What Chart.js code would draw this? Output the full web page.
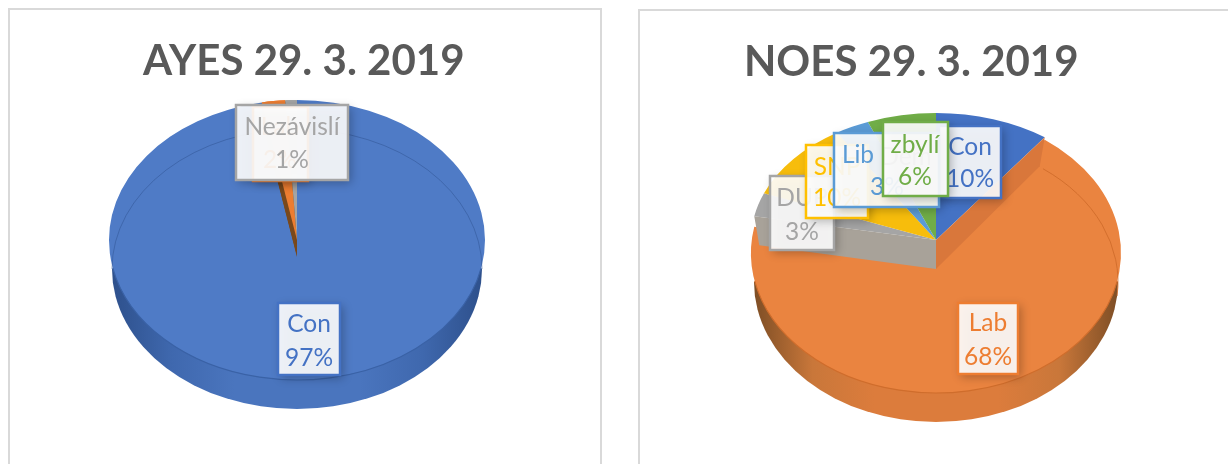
<!DOCTYPE html>
<html>
<head>
<meta charset="utf-8">
<script src="https://cdn.jsdelivr.net/npm/chart.js@4"></script>
<style>
html, body { margin: 0; width: 1228px; height: 464px; overflow: hidden; background: #fff; }
.panel { position: absolute; box-sizing: border-box; border: 2.5px solid #d9d9d9; height: 520px; }
canvas { position: absolute; }
</style>
</head>
<body>
<div class="panel" style="left:8px;top:7.5px;width:594px"></div>
<div class="panel" style="left:638px;top:9px;width:640px"></div>
<canvas id="ayes" style="left:11px;top:11px"></canvas>
<canvas id="noes" style="left:641px;top:12px"></canvas>
<script>
const ayesCategories = ['Con', 'Lab', 'Nezávislí'];
const ayesValues = [97, 2, 1];
const ayesColors = ['#4f7bc6', '#ed7d31', '#a5a5a5'];

const noesCategories = ['Con', 'Lab', 'DUP', 'SNP', 'Lib', 'zbylí'];
const noesValues = [10, 68, 3, 10, 3, 6];
const noesColors = ['#4472c4', '#ea8440', '#a5a5a5', '#f7bd0c', '#5b9bd5', '#70ad47'];

const textColors = {
    Con: '#4472c4', Lab: '#ed7d31', 'Nezávislí': '#a5a5a5', DUP: '#a5a5a5',
    SNP: '#ffc000', Lib: '#5b9bd5', 'zbylí': '#70ad47'
};

// label boxes, in page pixels, listed bottom to top
const ayesBoxes = [
    { i: 0, x: 278, y: 303, w: 62, h: 72, cx: [309, 309], ty: [324, 358] },
    { i: 1, x: 253, y: 107, w: 55, h: 74, cx: [280, 280], ty: [127, 160] },
    { i: 2, x: 236, y: 105, w: 112, h: 75, cx: [292, 292], ty: [127, 160] }
];
const noesBoxes = [
    { i: 1, x: 958, y: 303, w: 60, h: 71, cx: [988, 988], ty: [323, 357] },
    { i: 0, x: 939, y: 126, w: 62, h: 72, cx: [970, 970], ty: [147, 179] },
    { i: 2, x: 770, y: 176, w: 64, h: 74, cx: [802, 802], ty: [198, 232] },
    { i: 3, x: 806, y: 145, w: 62, h: 73, cx: [837, 837], ty: [167, 198] },
    { i: 4, x: 834, y: 133, w: 105, h: 74, cx: [858, 887], ty: [155, 187], note: 'Dem', noteX: 906, noteY: 157 },
    { i: 5, x: 883, y: 122, w: 65, h: 74, cx: [915, 915], ty: [145, 177] }
];

Chart.defaults.font.family = 'Lato';
Chart.defaults.animation = false;

function percent(values, i) {
    return values[i] + '%';
}

// squash an arc into the tilted ellipse; slices behind the front one sit higher on the right pie
function flatten(c, pie, el, i) {
    const back = pie.frontIndex !== undefined && i !== pie.frontIndex;
    const cy = back ? pie.backCy : pie.cy;
    const ry = back ? pie.backRy : pie.ry;
    c.translate(-pie.left, -pie.top);
    c.translate(pie.cx, cy);
    c.scale(1, ry / pie.rx);
    c.translate(-el.x, -el.y);
}

function drawWall(ctx, pie, from, to, stops) {
    const grad = ctx.createLinearGradient(pie.cx - pie.rx, 0, pie.cx + pie.rx, 0);
    stops.forEach((s, n) => grad.addColorStop(n / (stops.length - 1), s));
    ctx.beginPath();
    ctx.ellipse(pie.cx, pie.cy + pie.depth, pie.rx - 3, pie.ry, 0, from, to);
    ctx.closePath();
    ctx.fillStyle = grad;
    ctx.fill();
}

function drawRim(ctx, pie, from, to) {
    ctx.beginPath();
    ctx.ellipse(pie.cx, pie.cy, pie.rx, pie.ry, 0, from, to);
    ctx.strokeStyle = pie.rimColor;
    ctx.lineWidth = 1.2;
    ctx.stroke();
}

function backPoint(pie, angle) {
    return [pie.cx + pie.rx * Math.cos(angle), pie.backCy + pie.backRy * Math.sin(angle)];
}

function drawCutFace(ctx, pie, angle, color) {
    const p = backPoint(pie, angle);
    ctx.beginPath();
    ctx.moveTo(pie.cx, pie.backCy);
    ctx.lineTo(p[0], p[1]);
    ctx.lineTo(p[0] + pie.cutInset * Math.sign(pie.cx - p[0]), p[1] + pie.depth);
    ctx.lineTo(pie.cx, pie.backCy + pie.depth);
    ctx.closePath();
    ctx.fillStyle = color;
    ctx.fill();
}

function drawBoxes(ctx, pie, categories, values) {
    ctx.font = '24.5px Lato';
    ctx.textAlign = 'center';
    ctx.textBaseline = 'middle';
    pie.boxes.forEach(b => {
        const name = categories[b.i];
        const color = textColors[name];
        ctx.save();
        ctx.shadowColor = 'rgba(0,0,0,0.3)';
        ctx.shadowBlur = 9;
        ctx.shadowOffsetX = 3;
        ctx.shadowOffsetY = 3;
        ctx.fillStyle = 'rgba(255,255,255,0.9)';
        ctx.fillRect(b.x, b.y, b.w, b.h);
        ctx.restore();
        ctx.strokeStyle = color;
        ctx.lineWidth = 2.5;
        ctx.strokeRect(b.x, b.y, b.w, b.h);
        ctx.fillStyle = color;
        ctx.fillText(name, b.cx[0], b.ty[0]);
        ctx.fillText(percent(values, b.i), b.cx[1], b.ty[1]);
        if (b.note) {
            ctx.fillStyle = '#a5a5a5';
            ctx.fillText(b.note, b.noteX, b.noteY);
        }
    });
}

const tiltPlugin = {
    id: 'tilt',
    beforeDatasetsDraw(chart, args, pie) {
        const ctx = chart.ctx;
        const arcs = chart.getDatasetMeta(0).data;
        arcs.forEach((el, i) => {
            if (el.tilted) return;
            const plain = el.draw;
            el.draw = function (c, area) {
                c.save();
                flatten(c, pie, el, i);
                plain.call(el, c, area);
                c.restore();
            };
            el.tilted = true;
        });
        ctx.save();
        ctx.translate(-pie.left, -pie.top);
        arcs.forEach(el => {
            const from = Math.max(el.startAngle, 0);
            const to = Math.min(el.endAngle, Math.PI);
            if (to > from) drawWall(ctx, pie, from, to, pie.wallStops);
        });
        ctx.restore();
    },
    afterDatasetsDraw(chart, args, pie) {
        const ctx = chart.ctx;
        const arcs = chart.getDatasetMeta(0).data;
        ctx.save();
        ctx.translate(-pie.left, -pie.top);
        arcs.forEach(el => {
            // rim starts a little below the widest point, the wall takes over from there
            const from = Math.max(el.startAngle, 0.2);
            const to = Math.min(el.endAngle, Math.PI - 0.2);
            if (to > from) drawRim(ctx, pie, from, to);
        });
        // faint rim of the far edge seen through the top face
        ctx.beginPath();
        pie.innerArcs.forEach(a => {
            const from = a.from === 'start' ? arcs[a.slice].startAngle : a.from;
            const to = a.to === 'end' ? arcs[a.slice].endAngle : a.to;
            ctx.moveTo(pie.cx + (pie.rx - 3) * Math.cos(from), pie.cy + pie.depth + pie.ry * Math.sin(from));
            ctx.ellipse(pie.cx, pie.cy + pie.depth, pie.rx - 3, pie.ry, 0, from, to);
        });
        ctx.strokeStyle = pie.innerColor;
        ctx.lineWidth = 1;
        ctx.stroke();

        if (pie.frontIndex !== undefined) {
            const front = arcs[pie.frontIndex];
            drawCutFace(ctx, pie, front.startAngle, pie.startFace);
            drawCutFace(ctx, pie, front.endAngle, pie.endFace);
        }
        if (pie.notch) {
            // the thin slices show their cut wall below the apex
            pie.notch.forEach(i => {
                const el = arcs[i];
                ctx.fillStyle = pie.notchColor;
                for (let d = pie.notchDepth; d > 0; d--) {
                    ctx.beginPath();
                    ctx.moveTo(pie.cx, pie.cy + d);
                    ctx.ellipse(pie.cx, pie.cy + d, pie.rx, pie.ry, 0, el.startAngle, el.endAngle);
                    ctx.closePath();
                    ctx.fill();
                }
            });
            ctx.restore();
            ctx.save();
            pie.notch.forEach(i => arcs[i].draw(ctx, chart.chartArea));
            ctx.translate(-pie.left, -pie.top);
        }
        drawBoxes(ctx, pie, chart.data.labels, chart.data.datasets[0].data);
        ctx.restore();
    }
};

function makePie(id, titleText, categories, values, colors, size, padding, tilt) {
    const canvas = document.getElementById(id);
    canvas.width = size[0];
    canvas.height = size[1];
    return new Chart(canvas, {
        type: 'pie',
        data: {
            labels: categories,
            datasets: [{
                data: values,
                backgroundColor: colors,
                borderWidth: 0,
                clip: false
            }]
        },
        options: {
            responsive: false,
            radius: tilt.rx,
            layout: { padding: padding },
            plugins: {
                legend: { display: false },
                tooltip: { enabled: false },
                title: {
                    display: true,
                    text: titleText,
                    align: 'start',
                    color: '#595959',
                    font: { family: 'Lato', size: 42, weight: 'bold' },
                    padding: { top: 25, bottom: 0 }
                },
                tilt: tilt
            }
        },
        plugins: [tiltPlugin]
    });
}

makePie('ayes', 'AYES 29. 3. 2019', ayesCategories, ayesValues, ayesColors,
    [588, 453], { left: 132, right: 132 }, {
        left: 11, top: 11, cx: 297, cy: 240, rx: 188, ry: 140, depth: 29,
        rimColor: '#3a62a6', innerColor: 'rgba(50,85,150,0.55)',
        innerArcs: [{ slice: 0, from: Math.PI, to: 2 * Math.PI }],
        wallStops: ['#2d4f8a', '#3f68ae', '#4a75be', '#4a75be', '#4a75be', '#3f68ae', '#2d4f8a'],
        notch: [1, 2], notchDepth: 17, notchColor: '#7a4a1e',
        boxes: ayesBoxes
    });

makePie('noes', 'NOES 29. 3. 2019', noesCategories, noesValues, noesColors,
    [587, 452], { left: 103, right: 103 }, {
        left: 641, top: 12, cx: 936, cy: 253, rx: 185, ry: 140, depth: 29,
        backCy: 240, backRy: 127, frontIndex: 1, cutInset: 5,
        rimColor: '#cf6d2c', innerColor: 'rgba(205,105,40,0.8)',
        innerArcs: [{ slice: 1, from: 'start', to: 0.1 }],
        wallStops: ['#7a4c24', '#c9773a', '#dc7c3c', '#dc7c3c', '#dc7c3c', '#c9773a', '#7a4c24'],
        startFace: '#d9773b', endFace: '#a8a299',
        boxes: noesBoxes
    });
</script>
</body>
</html>
